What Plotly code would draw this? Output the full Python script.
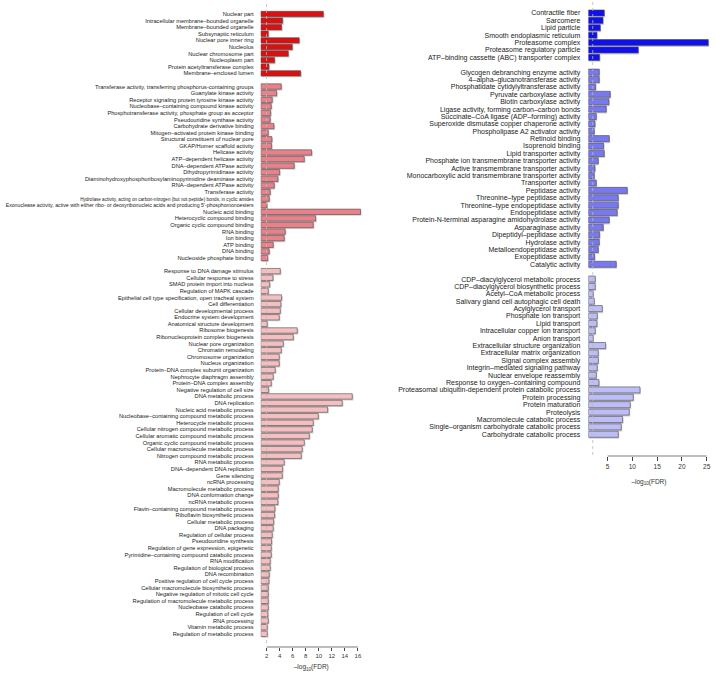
import plotly.graph_objects as go

W, H = 716, 677
BAR_BASE = 1.1

# ---------------- Left panel data ----------------
L_CC_LABELS = ["Nuclear part", "Intracellular membrane\u2013bounded organelle", "Membrane\u2013bounded organelle",
               "Subsynaptic reticulum", "Nuclear pore inner ring", "Nucleolus", "Nuclear chromosome part",
               "Nucleoplasm part", "Protein acetyltransferase complex", "Membrane\u2013enclosed lumen"]
L_CC_VALUES = [10.7, 4.46, 4.3, 2.26, 7.0, 5.94, 5.33, 3.23, 2.36, 7.22]

L_MF_LABELS = ["Transferase activity, transferring phosphorus-containing groups", "Guanylate kinase activity",
               "Receptor signaling protein tyrosine kinase activity", "Nucleobase\u2013containing compound kinase activity",
               "Phosphotransferase activity, phosphate group as acceptor", "Pseudouridine synthase activity",
               "Carbohydrate derivative binding", "Mitogen\u2013activated protein kinase binding",
               "Structural constituent of nuclear pore", "GKAP/Homer scaffold activity", "Helicase activity",
               "ATP\u2013dependent helicase activity", "DNA\u2013dependent ATPase activity", "Dihydropyrimidinase activity",
               "Diaminohydroxyphosphoribosylaminopyrimidine deaminase activity", "RNA\u2013dependent ATPase activity",
               "Transferase activity",
               "Hydrolase activity, acting on carbon-nitrogen (but not peptide) bonds, in cyclic amides",
               "Exonuclease activity, active with either ribo- or deoxyribonucleic acids and producing 5'-phosphomonoesters",
               "Nucleic acid binding", "Heterocyclic compound binding", "Organic cyclic compound binding",
               "RNA binding", "Ion binding", "ATP binding", "DNA binding", "Nucleoside phosphate binding"]
L_MF_VALUES = [4.25, 3.54, 2.87, 2.72, 2.62, 2.56, 3.13, 2.26, 2.82, 2.77, 8.9, 7.78, 6.24, 4.0, 3.74, 3.18,
               2.56, 2.41, 2.06, 16.4, 9.52, 9.16, 4.86, 4.71, 3.02, 2.41, 2.16]

L_BP_LABELS = ["Response to DNA damage stimulus", "Cellular response to stress", "SMAD protein import into nucleus",
               "Regulation of MAPK cascade", "Epithelial cell type specification, open tracheal system",
               "Cell differentiation", "Cellular developmental process", "Endocrine system development",
               "Anatomical structure development", "Ribosome biogenesis", "Ribonucleoprotein complex biogenesis",
               "Nuclear pore organization", "Chromatin remodeling", "Chromosome organization", "Nucleus organization",
               "Protein\u2013DNA complex subunit organization", "Nephrocyte diaphragm assembly",
               "Protein\u2013DNA complex assembly", "Negative regulation of cell size", "DNA metabolic process",
               "DNA replication", "Nucleic acid metabolic process", "Nucleobase\u2013containing compound metabolic process",
               "Heterocycle metabolic process", "Cellular nitrogen compound metabolic process",
               "Cellular aromatic compound metabolic process", "Organic cyclic compound metabolic process",
               "Cellular macromolecule metabolic process", "Nitrogen compound metabolic process",
               "RNA metabolic process", "DNA\u2013dependent DNA replication", "Gene silencing", "ncRNA processing",
               "Macromolecule metabolic process", "DNA conformation change", "ncRNA metabolic process",
               "Flavin\u2013containing compound metabolic process", "Riboflavin biosynthetic process",
               "Cellular metabolic process", "DNA packaging", "Regulation of cellular process",
               "Pseudouridine synthesis", "Regulation of gene expression, epigenetic",
               "Pyrimidine\u2013containing compound catabolic process", "RNA modification",
               "Regulation of biological process", "DNA recombination", "Positive regulation of cell cycle process",
               "Cellular macromolecule biosynthetic process", "Negative regulation of mitotic cell cycle",
               "Regulation of macromolecule metabolic process", "Nucleobase catabolic process",
               "Regulation of cell cycle", "RNA processing", "Vitamin metabolic process",
               "Regulation of metabolic process"]
L_BP_VALUES = [4.1, 2.98, 2.47, 2.26, 4.3, 4.2, 4.1, 3.94, 2.1, 6.7, 6.1, 4.56, 4.25, 3.94, 3.94, 3.33, 3.02,
               2.72, 2.31, 15.14, 13.6, 11.36, 9.93, 9.16, 9.0, 8.55, 7.78, 7.47, 7.32, 4.71, 4.46, 4.41, 3.94,
               3.79, 3.79, 3.74, 3.28, 3.23, 3.08, 3.02, 2.87, 2.77, 2.72, 2.72, 2.56, 2.56, 2.41, 2.36, 2.26,
               2.26, 2.26, 2.26, 2.2, 2.26, 2.1, 2.1]

# ---------------- Right panel data ----------------
R_CC_LABELS = ["Contractile fiber", "Sarcomere", "Lipid particle", "Smooth endoplasmic reticulum",
               "Proteasome complex", "Proteasome regulatory particle",
               "ATP\u2013binding cassette (ABC) transporter complex"]
R_CC_VALUES = [4.33, 4.07, 3.53, 2.85, 25.34, 11.2, 3.39]

R_MF_LABELS = ["Glycogen debranching enzyme activity", "4\u2013alpha\u2013glucanotransferase activity",
               "Phosphatidate cytidylyltransferase activity", "Pyruvate carboxylase activity",
               "Biotin carboxylase activity", "Ligase activity, forming carbon\u2013carbon bonds",
               "Succinate\u2013CoA ligase (ADP\u2013forming) activity", "Superoxide dismutase copper chaperone activity",
               "Phospholipase A2 activator activity", "Retinoid binding", "Isoprenoid binding",
               "Lipid transporter activity", "Phosphate ion transmembrane transporter activity",
               "Active transmembrane transporter activity", "Monocarboxylic acid transmembrane transporter activity",
               "Transporter activity", "Peptidase activity", "Threonine\u2013type peptidase activity",
               "Threonine\u2013type endopeptidase activity", "Endopeptidase activity",
               "Protein-N-terminal asparagine amidohydrolase activity", "Asparaginase activity",
               "Dipeptidyl\u2013peptidase activity", "Hydrolase activity", "Metalloendopeptidase activity",
               "Exopeptidase activity", "Catalytic activity"]
R_MF_VALUES = [3.32, 3.32, 2.58, 5.54, 5.27, 4.73, 2.72, 2.45, 2.31, 5.34, 4.2, 4.33, 3.12, 2.45, 2.31, 2.72,
               8.98, 7.16, 7.16, 6.95, 5.34, 4.13, 3.39, 3.32, 3.12, 2.38, 6.75]

R_BP_LABELS = ["CDP\u2013diacylglycerol metabolic process", "CDP\u2013diacylglycerol biosynthetic process",
               "Acetyl\u2013CoA metabolic process", "Salivary gland cell autophagic cell death",
               "Acylglycerol transport", "Phosphate ion transport", "Lipid transport",
               "Intracellular copper ion transport", "Anion transport", "Extracellular structure organization",
               "Extracellular matrix organization", "Signal complex assembly", "Integrin\u2013mediated signaling pathway",
               "Nuclear envelope reassembly", "Response to oxygen\u2013containing compound",
               "Proteasomal ubiquitin-dependent protein catabolic process", "Protein processing",
               "Protein maturation", "Proteolysis", "Macromolecule catabolic process",
               "Single\u2013organism carbohydrate catabolic process", "Carbohydrate catabolic process"]
R_BP_VALUES = [2.51, 2.51, 2.1, 2.31, 3.93, 2.92, 2.85, 2.51, 2.1, 4.6, 3.12, 3.12, 2.92, 2.72, 3.25, 11.54,
               10.19, 9.58, 9.38, 8.03, 7.76, 7.16]

LEFT_TICKS = [2, 4, 6, 8, 10, 12, 14, 16]
RIGHT_TICKS = [5, 10, 15, 20, 25]

LEFT_COLORS = ["#DC1010", "#E8818A", "#F5BFC2"]
RIGHT_COLORS = ["#1010EE", "#7878F0", "#BDBDF8"]

FONT = "Liberation Sans, Arial, Helvetica, sans-serif"


def px_x(p):
    return p / W


def px_y(p):
    return 1 - p / H


def layout_rows(groups):
    out = []
    r = 0
    for labels, values in groups:
        idx = list(range(r, r + len(labels)))
        out.append(idx)
        r += len(labels) + 1
    return out


def small_label(lab):
    if len(lab) > 100:
        return '<span style="font-size:5.2px">' + lab + '</span>'
    if len(lab) > 80:
        return '<span style="font-size:4.6px">' + lab + '</span>'
    return lab


fig = go.Figure()

panels = [
    dict(groups=[(L_CC_LABELS, L_CC_VALUES), (L_MF_LABELS, L_MF_VALUES), (L_BP_LABELS, L_BP_VALUES)],
         colors=LEFT_COLORS, xa="x", ya="y"),
    dict(groups=[(R_CC_LABELS, R_CC_VALUES), (R_MF_LABELS, R_MF_VALUES), (R_BP_LABELS, R_BP_VALUES)],
         colors=RIGHT_COLORS, xa="x2", ya="y2"),
]

tick_info = []
for pnl in panels:
    rows = layout_rows(pnl["groups"])
    tv, tt = [], []
    for (labels, values), idx, col in zip(pnl["groups"], rows, pnl["colors"]):
        # light shadow under each bar
        fig.add_trace(go.Bar(
            y=[i + 0.2 for i in idx], x=[v - BAR_BASE for v in values], base=BAR_BASE + 0.18,
            orientation="h", width=0.82, marker=dict(color="#CFCFCF", line=dict(width=0)),
            xaxis=pnl["xa"], yaxis=pnl["ya"], hoverinfo="skip", showlegend=False))
        fig.add_trace(go.Bar(
            y=idx, x=[v - BAR_BASE for v in values], base=BAR_BASE, orientation="h", width=0.82,
            marker=dict(color=col, line=dict(color="#4A4A4A", width=0.6)),
            xaxis=pnl["xa"], yaxis=pnl["ya"], showlegend=False,
            customdata=values, hovertemplate="%{customdata}<extra></extra>"))
        tv += idx
        tt += [small_label(lab) for lab in labels]
    tick_info.append((tv, tt))

# Left: plot region x 260.7..361.8 px, y 3..643 px ; axis line at 647
# Right: plot region x 588.3..709.6 px, y 0..452 px ; axis line at 456
L_AX_Y, R_AX_Y = 647, 456

fig.update_layout(
    width=W, height=H, margin=dict(l=0, r=0, t=0, b=0),
    paper_bgcolor="white", plot_bgcolor="white", barmode="overlay",
    font=dict(family=FONT, color="#222222"),
    xaxis=dict(domain=[px_x(260.7), px_x(361.8)], range=[BAR_BASE, 16.6], anchor="free",
               position=px_y(L_AX_Y), tickvals=LEFT_TICKS, ticks="outside", ticklen=3, tickwidth=0.7,
               tickcolor="#444", showline=False, showgrid=False, zeroline=False,
               tickfont=dict(size=6, color="#333"),
               title=dict(text="\u2013log<sub>10</sub>(FDR)", font=dict(size=6.5, color="#333"), standoff=6)),
    yaxis=dict(domain=[px_y(643), px_y(3)], range=[95.4, -1.67], tickvals=tick_info[0][0],
               ticktext=tick_info[0][1], showgrid=False, zeroline=False, showline=False, ticks="",
               tickfont=dict(size=5.7, color="#222"), ticklabelstandoff=6, automargin=False, anchor="x"),
    xaxis2=dict(domain=[px_x(588.3), px_x(709.6)], range=[BAR_BASE, 25.6], anchor="free",
                position=px_y(R_AX_Y), tickvals=RIGHT_TICKS, ticks="outside", ticklen=4, tickwidth=0.7,
                tickcolor="#444", showline=False, showgrid=False, zeroline=False,
                tickfont=dict(size=6.5, color="#333"),
                title=dict(text="\u2013log<sub>10</sub>(FDR)", font=dict(size=6.5, color="#333"), standoff=10)),
    yaxis2=dict(domain=[px_y(452), px_y(0)], range=[59.4, -1.76], tickvals=tick_info[1][0],
                ticktext=tick_info[1][1], showgrid=False, zeroline=False, showline=False, ticks="",
                tickfont=dict(size=7, color="#222"), ticklabelstandoff=7, automargin=False, anchor="x2"),
)

shapes = [
    # dashed threshold lines at -log10(FDR) = 2
    dict(type="line", xref="x", yref="paper", x0=2, x1=2, y0=px_y(643), y1=px_y(3),
         line=dict(color="#BBBBBB", width=0.8, dash="dot"), layer="above"),
    dict(type="line", xref="x2", yref="paper", x0=2, x1=2, y0=px_y(455), y1=px_y(0),
         line=dict(color="#BBBBBB", width=0.8, dash="dot"), layer="above"),
    # R-style axis lines spanning first to last tick
    dict(type="line", xref="x", yref="paper", x0=LEFT_TICKS[0], x1=LEFT_TICKS[-1],
         y0=px_y(L_AX_Y), y1=px_y(L_AX_Y), line=dict(color="#444", width=0.7)),
    dict(type="line", xref="x2", yref="paper", x0=RIGHT_TICKS[0], x1=RIGHT_TICKS[-1],
         y0=px_y(R_AX_Y), y1=px_y(R_AX_Y), line=dict(color="#444", width=0.7)),
]
fig.update_layout(shapes=shapes)

fig.write_html("out.html", config={"displayModeBar": False},
               post_script="document.body.style.margin='0px';document.body.style.overflow='hidden';")
